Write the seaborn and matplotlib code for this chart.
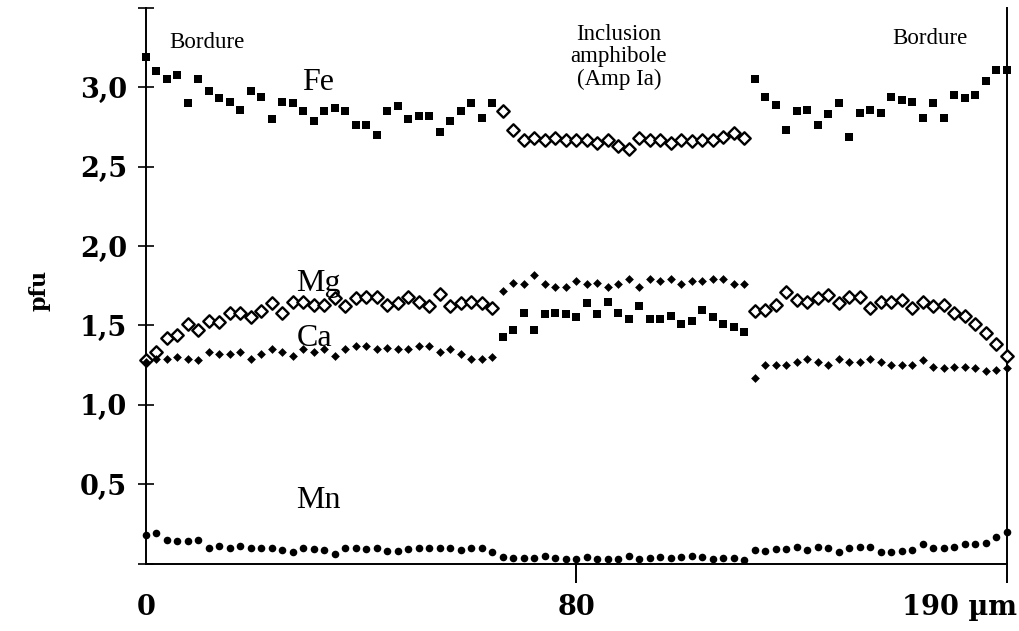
import numpy as np
import pandas as pd
import matplotlib
matplotlib.use("Agg")
import matplotlib.pyplot as plt
import matplotlib.transforms as mtransforms
import seaborn as sns

# ---- data (pfu), analyses along the traverse: garnet rim | amphibole inclusion | garnet rim
fe_rim_left = [3.19, 3.10, 3.05, 3.08, 2.90, 3.05, 2.98, 2.93, 2.91, 2.86,
               2.98, 2.94, 2.80, 2.91, 2.90, 2.85, 2.79, 2.85, 2.87, 2.85,
               2.76, 2.76, 2.70, 2.85, 2.88, 2.80, 2.82, 2.82, 2.72, 2.79,
               2.85, 2.90, 2.81, 2.90]
fe_inclusion = [1.43, 1.47, 1.58, 1.47, 1.57, 1.58, 1.57, 1.55, 1.64, 1.57,
                1.65, 1.58, 1.54, 1.62, 1.54, 1.54, 1.56, 1.51, 1.53, 1.60,
                1.55, 1.51, 1.49, 1.46]
fe_rim_right = [3.05, 2.94, 2.89, 2.73, 2.85, 2.86, 2.76, 2.83, 2.90, 2.69,
                2.84, 2.86, 2.84, 2.94, 2.92, 2.91, 2.81, 2.90, 2.81, 2.95,
                2.93, 2.95, 3.04, 3.11, 3.11]

mg_rim_left = [1.28, 1.33, 1.42, 1.44, 1.51, 1.47, 1.53, 1.52, 1.58, 1.58,
               1.55, 1.59, 1.64, 1.58, 1.65, 1.65, 1.63, 1.63, 1.67, 1.62,
               1.67, 1.68, 1.68, 1.63, 1.64, 1.68, 1.65, 1.62, 1.70, 1.62,
               1.64, 1.65, 1.64, 1.61]
mg_inclusion = [2.85, 2.73, 2.67, 2.68, 2.67, 2.68, 2.67, 2.67, 2.67, 2.65,
                2.67, 2.63, 2.61, 2.68, 2.67, 2.67, 2.65, 2.67, 2.66, 2.67,
                2.67, 2.69, 2.71, 2.68]
mg_rim_right = [1.59, 1.60, 1.63, 1.71, 1.66, 1.65, 1.67, 1.69, 1.64, 1.68,
                1.68, 1.61, 1.65, 1.65, 1.66, 1.61, 1.65, 1.62, 1.63, 1.58,
                1.56, 1.51, 1.45, 1.38, 1.31]

ca_rim_left = [1.27, 1.29, 1.29, 1.30, 1.29, 1.28, 1.33, 1.32, 1.32, 1.33,
               1.29, 1.32, 1.35, 1.33, 1.31, 1.35, 1.33, 1.35, 1.31, 1.35,
               1.37, 1.37, 1.35, 1.36, 1.35, 1.35, 1.37, 1.37, 1.33, 1.35,
               1.32, 1.29, 1.29, 1.30]
ca_inclusion = [1.72, 1.77, 1.76, 1.82, 1.76, 1.74, 1.74, 1.78, 1.76, 1.77,
                1.74, 1.76, 1.79, 1.74, 1.79, 1.78, 1.79, 1.76, 1.78, 1.78,
                1.79, 1.79, 1.76, 1.76]
ca_rim_right = [1.17, 1.25, 1.25, 1.25, 1.27, 1.29, 1.27, 1.25, 1.29, 1.27,
                1.27, 1.29, 1.27, 1.25, 1.25, 1.25, 1.28, 1.24, 1.23, 1.24,
                1.24, 1.23, 1.21, 1.22, 1.23]

mn_rim_left = [0.18, 0.19, 0.15, 0.14, 0.14, 0.15, 0.10, 0.11, 0.10, 0.11,
               0.10, 0.10, 0.10, 0.085, 0.07, 0.10, 0.09, 0.085, 0.06, 0.10,
               0.10, 0.09, 0.10, 0.077, 0.077, 0.09, 0.10, 0.10, 0.10,
               0.10, 0.085, 0.10, 0.10, 0.07]
mn_inclusion = [0.04, 0.035, 0.035, 0.035, 0.05, 0.035, 0.03, 0.03, 0.04, 0.03,
                0.03, 0.03, 0.05, 0.03, 0.035, 0.04, 0.035, 0.04, 0.045, 0.04,
                0.03, 0.035, 0.035, 0.02]
mn_rim_right = [0.085, 0.08, 0.09, 0.09, 0.105, 0.085, 0.105, 0.10, 0.07, 0.10,
                0.105, 0.105, 0.07, 0.07, 0.077, 0.085, 0.12, 0.10, 0.10, 0.105,
                0.12, 0.12, 0.13, 0.17, 0.20]

x_ticks = [0, 41, 82]
x_tick_labels = ["0", "80", "190 \u00b5m"]
y_ticks = [0, 0.5, 1.0, 1.5, 2.0, 2.5, 3.0, 3.5]
y_tick_labels = ["", "0,5", "1,0", "1,5", "2,0", "2,5", "3,0", ""]

fe = fe_rim_left + fe_inclusion + fe_rim_right
mg = mg_rim_left + mg_inclusion + mg_rim_right
ca = ca_rim_left + ca_inclusion + ca_rim_right
mn = mn_rim_left + mn_inclusion + mn_rim_right
pos = np.arange(len(fe))
df = pd.DataFrame({"pos": pos, "Fe": fe, "Mg": mg, "Ca": ca, "Mn": mn})

sns.set_style("white")
plt.rcParams["font.family"] = ["Liberation Serif", "DejaVu Serif"]
for k in ["text.color", "axes.labelcolor", "xtick.color", "ytick.color", "axes.edgecolor"]:
    plt.rcParams[k] = "black"

BOLD = ["DejaVu Serif", "Liberation Serif"]

fig = plt.figure(figsize=(10.2, 6.31), dpi=100)
W, H = 1020, 631
x0, x1, ytop, ybot = 146, 1007, 8, 563.5
ax = fig.add_axes([x0 / W, 1 - ybot / H, (x1 - x0) / W, (ybot - ytop) / H])

sns.scatterplot(data=df, x="pos", y="Fe", marker="s", s=36, color="black",
                edgecolor="black", linewidth=0, ax=ax, clip_on=False, zorder=3)
sns.scatterplot(data=df, x="pos", y="Mg", marker="D", s=40, facecolor="white",
                edgecolor="black", linewidth=1.7, ax=ax, clip_on=False, zorder=3)
sns.scatterplot(data=df, x="pos", y="Ca", marker="D", s=20, color="black",
                edgecolor="black", linewidth=0, ax=ax, clip_on=False, zorder=3)
sns.scatterplot(data=df, x="pos", y="Mn", marker="o", s=30, color="black",
                edgecolor="black", linewidth=0, ax=ax, clip_on=False, zorder=3)

ax.set_xlim(0, 82)
ax.set_ylim(0, 3.5)
ax.set_xlabel("")
ax.set_ylabel("")

for s in ["left", "bottom", "right"]:
    ax.spines[s].set_visible(True)
    ax.spines[s].set_color("black")
    ax.spines[s].set_linewidth(1.4)
ax.spines["top"].set_visible(False)

ax.set_yticks(y_ticks)
ax.set_yticklabels(y_tick_labels, fontsize=19.5, fontweight="bold", family=BOLD)
ax.tick_params(axis="y", direction="inout", length=11, width=1.2, pad=8,
               left=True, right=False)
ax.set_xticks(x_ticks)
ax.set_xticklabels(x_tick_labels, fontsize=19.5, fontweight="bold", family=BOLD)
ax.tick_params(axis="x", direction="out", length=14, width=1.4, pad=8, bottom=True)
xt = ax.xaxis.get_major_ticks()
xt[0].tick1line.set_visible(False)
lab = ax.get_xticklabels()[-1]
lab.set_horizontalalignment("right")
lab.set_transform(lab.get_transform() + mtransforms.ScaledTranslation(10 / 100, 0, fig.dpi_scale_trans))

fig.text(40 / W, 1 - 290 / H, "pfu", rotation=90, ha="center", va="center",
         fontsize=16, fontweight="bold", family=BOLD)

# annotations
def px(xp, yp):
    return (xp - x0) / (x1 - x0), (ybot - yp) / (ybot - ytop)

ax.text(*px(207, 42), "Bordure", transform=ax.transAxes, ha="center", va="center", fontsize=16.5)
ax.text(*px(930, 38), "Bordure", transform=ax.transAxes, ha="center", va="center", fontsize=16.5)
ax.text(*px(619, 57), "Inclusion\namphibole\n(Amp Ia)", transform=ax.transAxes,
        ha="center", va="center", fontsize=16.5, linespacing=1.1)
ax.text(*px(318, 82), "Fe", transform=ax.transAxes, ha="center", va="center", fontsize=23)
ax.text(*px(318, 283), "Mg", transform=ax.transAxes, ha="center", va="center", fontsize=23)
ax.text(*px(315, 338), "Ca", transform=ax.transAxes, ha="center", va="center", fontsize=23)
ax.text(*px(318, 500), "Mn", transform=ax.transAxes, ha="center", va="center", fontsize=23)

legend = ax.get_legend()
if legend is not None:
    legend.remove()

fig.savefig("out.png", dpi=100, facecolor="white")
